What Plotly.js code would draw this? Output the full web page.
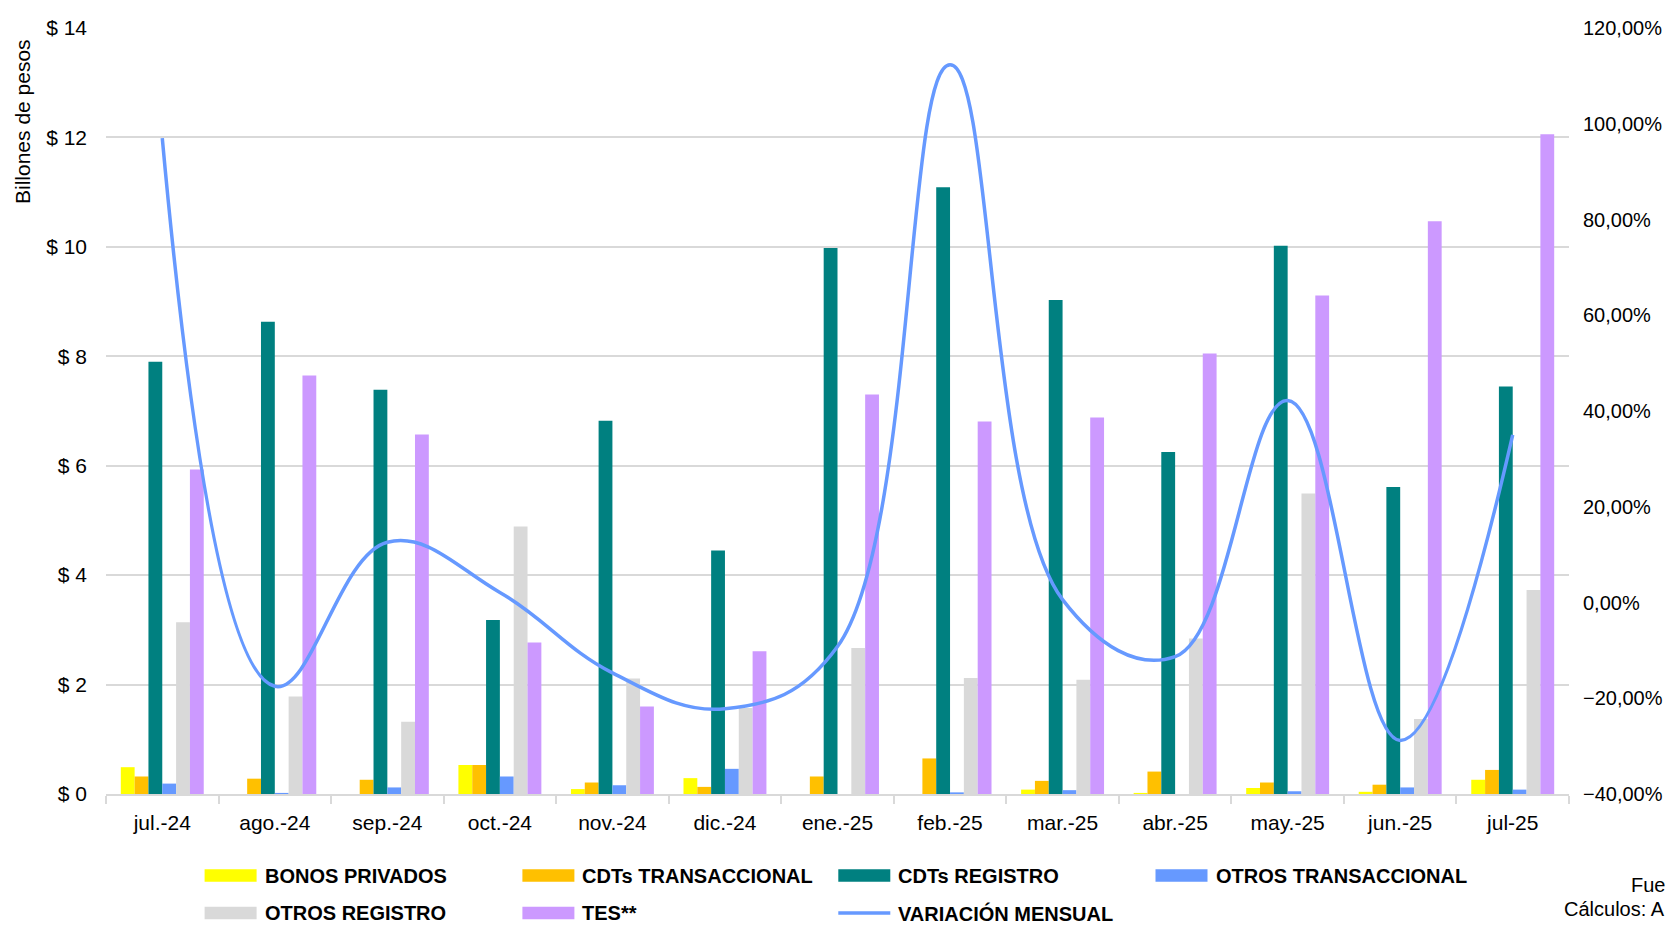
<!DOCTYPE html>
<html><head><meta charset="utf-8">
<script src="https://cdn.plot.ly/plotly-3.0.1.min.js"></script>
<style>html,body{margin:0;padding:0;background:#fff;overflow:hidden}#chart{width:1669px;height:927px}</style>
</head><body><div id="chart"></div>
<script>
// ---- data ----
const months = ['jul.-24','ago.-24','sep.-24','oct.-24','nov.-24','dic.-24','ene.-25','feb.-25','mar.-25','abr.-25','may.-25','jun.-25','jul-25'];
const bonosPrivados      = [0.49, 0.00, 0.00, 0.53, 0.09, 0.29, 0.00, 0.00, 0.08, 0.02, 0.11, 0.04, 0.26];
const cdtsTransaccional  = [0.32, 0.28, 0.26, 0.53, 0.21, 0.13, 0.32, 0.65, 0.24, 0.41, 0.21, 0.17, 0.44];
const cdtsRegistro       = [7.90, 8.63, 7.39, 3.18, 6.82, 4.45, 9.98, 11.09, 9.03, 6.25, 10.02, 5.61, 7.45];
const otrosTransaccional = [0.19, 0.02, 0.12, 0.32, 0.16, 0.46, 0.00, 0.03, 0.07, 0.00, 0.05, 0.12, 0.08];
const otrosRegistro      = [3.14, 1.78, 1.32, 4.89, 2.11, 1.57, 2.67, 2.12, 2.09, 2.84, 5.49, 1.37, 3.73];
const tes                = [5.93, 7.65, 6.57, 2.77, 1.60, 2.61, 7.30, 6.81, 6.88, 8.05, 9.11, 10.47, 12.06];
const variacionMensual   = [97.0, -17.5, 12.6, 2.1, -14.7, -22.2, -9.2, 112.3, 0.6, -11.3, 42.2, -28.8, 35.0];

const seriesNames = ['BONOS PRIVADOS','CDTs TRANSACCIONAL','CDTs REGISTRO','OTROS TRANSACCIONAL','OTROS REGISTRO','TES**','VARIACIÓN MENSUAL'];
const seriesColors = ['#FFFF00','#FFC000','#008080','#6699FF','#D9D9D9','#CC99FF','#6699FF'];
const barValues = [bonosPrivados, cdtsTransaccional, cdtsRegistro, otrosTransaccional, otrosRegistro, tes];
const sourceLines = ['Fue', 'Cálculos: A'];   // as visible (cut at the right edge) in the source

// ---- layout helpers ----
const FONT = '"Liberation Sans Narrow", "Arial Narrow", "Liberation Sans", Arial, sans-serif';
const W = 1669, H = 927, L = 106, R = 100, T = 28, B = 133;
const plotW = W - L - R, plotH = H - T - B;
const px2x = px => (px - L) / plotW;
const px2y = py => (H - B - py) / plotH;

const traces = barValues.map((vals, i) => ({
  type: 'bar', x: months, y: vals, name: seriesNames[i],
  marker: {color: seriesColors[i], line: {width: 0}}, yaxis: 'y', hoverinfo: 'x+y+name'
}));
traces.push({
  type: 'scatter', mode: 'lines', x: months, y: variacionMensual, name: seriesNames[6],
  line: {color: seriesColors[6], width: 3.5, shape: 'spline', smoothing: 1.15}, yaxis: 'y2'
});

// custom legend (wide flat keys like the source)
const colX = [204.6, 522.4, 838.3, 1155.5];
const rowY = [875.5, 913];
const shapes = [], annotations = [];
seriesNames.forEach((nm, i) => {
  const col = i % 4, row = Math.floor(i / 4);
  const x0 = colX[col], yc = rowY[row];
  if (i < 6) {
    shapes.push({type: 'rect', xref: 'paper', yref: 'paper', x0: px2x(x0), x1: px2x(x0 + 52),
      y0: px2y(yc - 6.2), y1: px2y(yc + 6.2), fillcolor: seriesColors[i], line: {width: 0}});
  } else {
    shapes.push({type: 'line', xref: 'paper', yref: 'paper', x0: px2x(x0), x1: px2x(x0 + 52),
      y0: px2y(yc), y1: px2y(yc), line: {color: seriesColors[i], width: 3.5}});
  }
  annotations.push({xref: 'paper', yref: 'paper', x: px2x(x0 + 58), y: px2y(yc), xanchor: 'left', yanchor: 'middle',
    text: '<b>' + nm + '</b>', showarrow: false, font: {family: FONT, size: 20, color: '#000'}});
});
annotations.push({xref: 'paper', yref: 'paper', x: px2x(23), y: px2y(122), textangle: -90, xanchor: 'center', yanchor: 'middle',
  text: 'Billones de pesos', showarrow: false, font: {family: FONT, size: 21, color: '#000'}});
annotations.push({xref: 'paper', yref: 'paper', x: px2x(1667), y: px2y(885), xanchor: 'right', yanchor: 'middle',
  text: sourceLines[0], showarrow: false, font: {family: FONT, size: 20, color: '#000'}});
annotations.push({xref: 'paper', yref: 'paper', x: px2x(1667), y: px2y(909), xanchor: 'right', yanchor: 'middle',
  text: sourceLines[1], showarrow: false, font: {family: FONT, size: 20, color: '#000'}});

const layout = {
  width: W, height: H, margin: {l: L, r: R, t: T, b: B, pad: 0},
  paper_bgcolor: '#fff', plot_bgcolor: '#fff',
  separators: ',.',
  showlegend: false,
  barmode: 'group', bargap: 0.263, bargroupgap: 0,
  font: {family: FONT, size: 21, color: '#000'},
  xaxis: {type: 'category', showgrid: false, showline: true, linecolor: '#D9D9D9', linewidth: 2,
    ticks: 'outside', tickson: 'boundaries', ticklen: 8, tickwidth: 2, tickcolor: '#D9D9D9',
    tickfont: {family: FONT, size: 21, color: '#000'}, ticklabelstandoff: 9, zeroline: false},
  yaxis: {range: [0, 14], dtick: 2, tick0: 0, tickprefix: '$ ', showgrid: true, gridcolor: '#D9D9D9', gridwidth: 2,
    zeroline: false, showline: false, ticks: '', tickfont: {family: FONT, size: 21, color: '#000'}, ticklabelstandoff: 18},
  yaxis2: {range: [-40, 120], dtick: 20, tick0: -40, overlaying: 'y', side: 'right', showgrid: false, zeroline: false,
    tickformat: '.2f', ticksuffix: '%', ticks: '', showline: false,
    tickfont: {family: FONT, size: 20, color: '#000'}, ticklabelstandoff: 13},
  shapes: shapes, annotations: annotations
};

Plotly.newPlot('chart', traces, layout, {staticPlot: true, displayModeBar: false});
</script>
</body></html>
